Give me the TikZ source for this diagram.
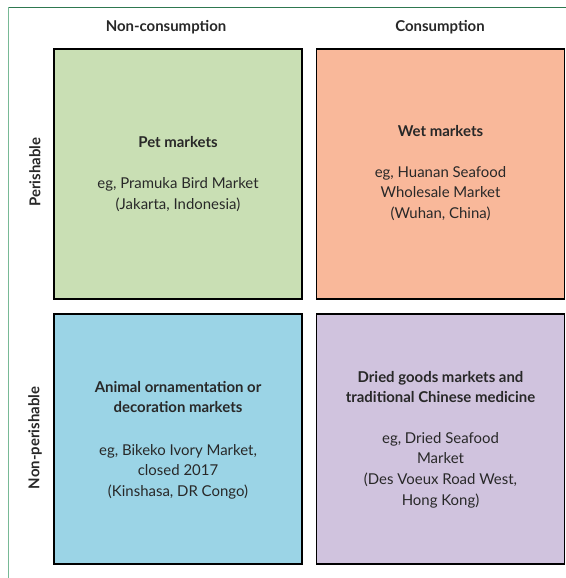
\documentclass[tikz,border=0pt]{standalone}
\usepackage{fontspec}
\setmainfont{Lato}
\definecolor{txt}{RGB}{40,40,40}
\definecolor{frameDark}{RGB}{46,120,80}
\definecolor{frameLight}{RGB}{120,185,150}
\definecolor{cgreen}{RGB}{201,223,180}
\definecolor{corange}{RGB}{249,184,154}
\definecolor{cblue}{RGB}{155,212,230}
\definecolor{cpurple}{RGB}{208,195,222}
\tikzset{
  quad/.style={draw=black, line width=1.2bp, minimum width=248bp, minimum height=250bp, inner sep=0pt},
  head/.style={text=txt, font=\fontsize{15}{18}\selectfont\bfseries, inner sep=0pt},
  ttl/.style={text=txt, font=\fontsize{15}{20.7}\selectfont\bfseries, align=center, inner sep=0pt},
  body/.style={text=txt, font=\fontsize{15}{20.7}\selectfont, align=center, inner sep=0pt},
}
\begin{document}
\begin{tikzpicture}[x=1bp,y=-1bp]
\useasboundingbox (0,0) rectangle (566,578);
\fill[white] (0,0) rectangle (566,578);
\draw[frameDark, line width=1.2bp] (8.5,7.5) -- (566,7.5);
\draw[frameLight, line width=1.5bp] (8.5,7.5) -- (8.5,578);

\node[head] (hnc) at (166,27) {Non-consumption};
\node[head] (hc) at (440,27) {Consumption};
\node[head, rotate=90] (vp) at (35,172) {Perishable};
\node[head, rotate=90] (vnp) at (35,438) {Non-perishable};

\node[quad, fill=cgreen] (q1) at (178,174) {};
\node[quad, fill=corange] (q2) at (440.5,174) {};
\node[quad, fill=cblue] (q3) at (178,439) {};
\node[quad, fill=cpurple] (q4) at (440.5,439) {};

\node[ttl] (t1) at (178,142) {Pet markets};
\node[body] (b1) at (178,194.5) {eg, Pramuka Bird Market\\(Jakarta, Indonesia)};

\node[ttl] (t2) at (440.5,131) {Wet markets};
\node[body] (b2) at (440.5,193.5) {eg, Huanan Seafood\\Wholesale Market\\(Wuhan, China)};

\node[ttl] (t3) at (178,397) {Animal ornamentation or\\decoration markets};
\node[body] (b3) at (178,471.5) {eg, Bikeko Ivory Market,\\closed 2017\\(Kinshasa, DR Congo)};

\node[ttl] (t4) at (440.5,387) {Dried goods markets and\\traditional Chinese medicine};
\node[body] (b4) at (440.5,470) {eg, Dried Seafood\\Market\\(Des Voeux Road West,\\Hong Kong)};
\end{tikzpicture}
\end{document}
